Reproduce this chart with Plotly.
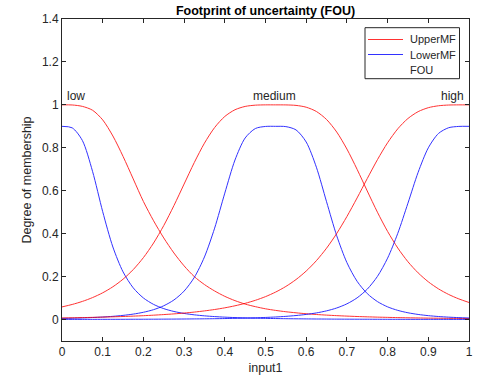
import plotly.graph_objects as go

# Sample points along input1
input1 = [0.0, 0.025, 0.05, 0.075, 0.1, 0.125, 0.15, 0.175, 0.2, 0.225,
          0.25, 0.275, 0.3, 0.325, 0.35, 0.375, 0.4, 0.425, 0.45, 0.475,
          0.5, 0.525, 0.55, 0.575, 0.6, 0.625, 0.65, 0.675, 0.7, 0.725,
          0.75, 0.775, 0.8, 0.825, 0.85, 0.875, 0.9, 0.925, 0.95, 0.975, 1.0]

# Upper membership functions
low_upper = [1.0, 0.9995, 0.993, 0.975, 0.93, 0.855, 0.76, 0.655, 0.55, 0.46,
             0.38, 0.31, 0.25, 0.2, 0.163, 0.133, 0.108, 0.088, 0.072, 0.06,
             0.05, 0.0425, 0.0363, 0.0313, 0.027, 0.0235, 0.0206, 0.0181, 0.016, 0.0141,
             0.0126, 0.0112, 0.0101, 0.009, 0.0081, 0.0074, 0.0067, 0.0061, 0.0055, 0.0051, 0.0046]
medium_upper = [0.0588, 0.0702, 0.0844, 0.1022, 0.1245, 0.1526, 0.188, 0.2327, 0.2883, 0.3565,
                0.4378, 0.5308, 0.6312, 0.7312, 0.8216, 0.8944, 0.946, 0.9772, 0.9927, 0.9986,
                1.0, 1.0, 0.9998, 0.9975, 0.9891, 0.9692, 0.9318, 0.8734, 0.7943, 0.6998,
                0.5988, 0.5, 0.4104, 0.3332, 0.2692, 0.2174, 0.1758, 0.1429, 0.1168, 0.0961, 0.0795]
high_upper = [0.0074, 0.0082, 0.0091, 0.0101, 0.0113, 0.0126, 0.0141, 0.0159, 0.0179, 0.0203,
              0.0231, 0.0263, 0.0302, 0.0347, 0.0402, 0.0467, 0.0545, 0.064, 0.0755, 0.0895,
              0.1067, 0.128, 0.1541, 0.1863, 0.2259, 0.2742, 0.3324, 0.401, 0.4798, 0.5664,
              0.6567, 0.7446, 0.8236, 0.8885, 0.9365, 0.9684, 0.9868, 0.9958, 0.9992, 1.0, 1.0]

# Lower membership functions
low_lower = [0.9, 0.893, 0.8343, 0.6905, 0.5025, 0.3379, 0.2221, 0.1476, 0.1005, 0.0705,
             0.0508, 0.0375, 0.0284, 0.0219, 0.0172, 0.0137, 0.0111, 0.0091, 0.0075, 0.0063,
             0.0053, 0.0046, 0.0039, 0.0034, 0.0029, 0.0025, 0.0022, 0.0019, 0.0017, 0.0015,
             0.0014, 0.0012, 0.0011, 0.001, 0.0009, 0.0008, 0.0008, 0.0007, 0.0006, 0.0005, 0.0005]
medium_lower = [0.0051, 0.0061, 0.0075, 0.0094, 0.0117, 0.0149, 0.0193, 0.0253, 0.0338, 0.046,
                0.0641, 0.0911, 0.1325, 0.196, 0.2915, 0.4258, 0.5889, 0.7431, 0.8458, 0.8897,
                0.8995, 0.9, 0.8987, 0.8834, 0.827, 0.7096, 0.5487, 0.3902, 0.2652, 0.1782,
                0.1209, 0.0836, 0.0591, 0.0427, 0.0315, 0.0237, 0.0181, 0.0141, 0.0111, 0.0089, 0.0072]
high_lower = [0.0006, 0.0006, 0.0007, 0.0008, 0.0009, 0.001, 0.0011, 0.0013, 0.0014, 0.0016,
              0.0019, 0.0021, 0.0025, 0.0029, 0.0033, 0.0039, 0.0046, 0.0055, 0.0066, 0.008,
              0.0097, 0.0119, 0.0148, 0.0187, 0.0238, 0.0308, 0.0404, 0.0538, 0.0731, 0.1009,
              0.1415, 0.2009, 0.286, 0.4015, 0.5421, 0.6857, 0.7998, 0.8667, 0.8935, 0.8996, 0.9]

mf_names = ["low", "medium", "high"]
mf_label_x = [0.007, 0.522, 0.993]
mf_label_anchor = ["left", "center", "right"]
mf_label_y = 1.04

legend_names = ["UpperMF", "LowerMF", "FOU"]

x_ticks = [0, 0.1, 0.2, 0.3, 0.4, 0.5, 0.6, 0.7, 0.8, 0.9, 1]
x_tick_text = ["0", "0.1", "0.2", "0.3", "0.4", "0.5", "0.6", "0.7", "0.8", "0.9", "1"]
y_ticks = [0, 0.2, 0.4, 0.6, 0.8, 1, 1.2, 1.4]
y_tick_text = ["0", "0.2", "0.4", "0.6", "0.8", "1", "1.2", "1.4"]

FONT = "Liberation Sans, Arial, Helvetica, sans-serif"
AXIS_COLOR = "#262626"
UPPER_COLOR = "rgb(255,0,0)"
LOWER_COLOR = "rgb(0,0,255)"
LINE_OPACITY = 0.8

fig = go.Figure()

uppers = [low_upper, medium_upper, high_upper]
lowers = [low_lower, medium_lower, high_lower]

for i, name in enumerate(mf_names):
    up, lo = uppers[i], lowers[i]
    # footprint of uncertainty: region between upper and lower MF (left unshaded)
    fig.add_trace(go.Scatter(
        x=input1 + input1[::-1], y=up + lo[::-1],
        fill="toself", fillcolor="rgba(255,255,255,0)",
        line=dict(width=0, color="rgba(0,0,0,0)"),
        mode="lines", name=f"{name} FOU", showlegend=False, hoverinfo="skip"))
    fig.add_trace(go.Scatter(
        x=input1, y=up, mode="lines", name=f"{name} UpperMF", opacity=LINE_OPACITY,
        line=dict(color=UPPER_COLOR, width=1, shape="spline", smoothing=0.8),
        showlegend=False))
    fig.add_trace(go.Scatter(
        x=input1, y=lo, mode="lines", name=f"{name} LowerMF", opacity=LINE_OPACITY,
        line=dict(color=LOWER_COLOR, width=1, shape="spline", smoothing=0.8),
        showlegend=False))

for name, lx, anc in zip(mf_names, mf_label_x, mf_label_anchor):
    fig.add_annotation(x=lx, y=mf_label_y, xref="x", yref="y", text=name,
                       showarrow=False, xanchor=anc, yanchor="middle",
                       font=dict(family=FONT, size=12, color=AXIS_COLOR))

# Compact legend box in the upper-right corner (paper coordinates)
PLOT_L, PLOT_W, PLOT_B, PLOT_H = 62, 407, 341, 322
def px_x(p):
    return (p - PLOT_L) / PLOT_W
def px_y(p):
    return (PLOT_B - p) / PLOT_H

fig.add_shape(type="rect", xref="paper", yref="paper",
              x0=px_x(365), x1=px_x(459.5), y0=px_y(78.7), y1=px_y(27.7),
              line=dict(color=AXIS_COLOR, width=1), fillcolor="white", layer="above")
legend_rows = [39.5, 54.5, 70]
legend_colors = [UPPER_COLOR, LOWER_COLOR, None]
for label, row, col in zip(legend_names, legend_rows, legend_colors):
    if col is not None:
        fig.add_shape(type="line", xref="paper", yref="paper",
                      x0=px_x(368), x1=px_x(403), y0=px_y(row), y1=px_y(row),
                      line=dict(color=col, width=1), opacity=LINE_OPACITY, layer="above")
    fig.add_annotation(x=px_x(408), y=px_y(row), xref="paper", yref="paper",
                       text=label, showarrow=False, xanchor="left", yanchor="middle",
                       font=dict(family=FONT, size=11, color=AXIS_COLOR))

axis_common = dict(
    showline=True, linecolor=AXIS_COLOR, linewidth=1, mirror="ticks",
    ticks="inside", ticklen=4, tickwidth=1, tickcolor=AXIS_COLOR,
    showgrid=False, zeroline=False, automargin=False,
    tickfont=dict(family=FONT, size=12, color=AXIS_COLOR),
)

fig.update_xaxes(range=[0, 1], tickvals=x_ticks, ticktext=x_tick_text,
                 title=dict(text="input1", font=dict(family=FONT, size=12.5, color=AXIS_COLOR), standoff=4),
                 **axis_common)
fig.update_yaxes(range=[-0.1, 1.4], tickvals=y_ticks, ticktext=y_tick_text,
                 title=dict(text="Degree of membership", font=dict(family=FONT, size=12.5, color=AXIS_COLOR), standoff=7),
                 **axis_common)

fig.update_layout(
    width=488, height=382,
    margin=dict(l=62, r=19, t=19, b=41),
    paper_bgcolor="white", plot_bgcolor="white",
    font=dict(family=FONT, size=12, color=AXIS_COLOR),
    title=dict(text="Footprint of uncertainty (FOU)", x=0.5, xref="paper", xanchor="center",
               y=1 - 11 / 382, yref="container", yanchor="middle",
               font=dict(family=FONT, size=12.5, color="#000000", weight="bold")),
    showlegend=False,
)

fig.write_html("out.html")
